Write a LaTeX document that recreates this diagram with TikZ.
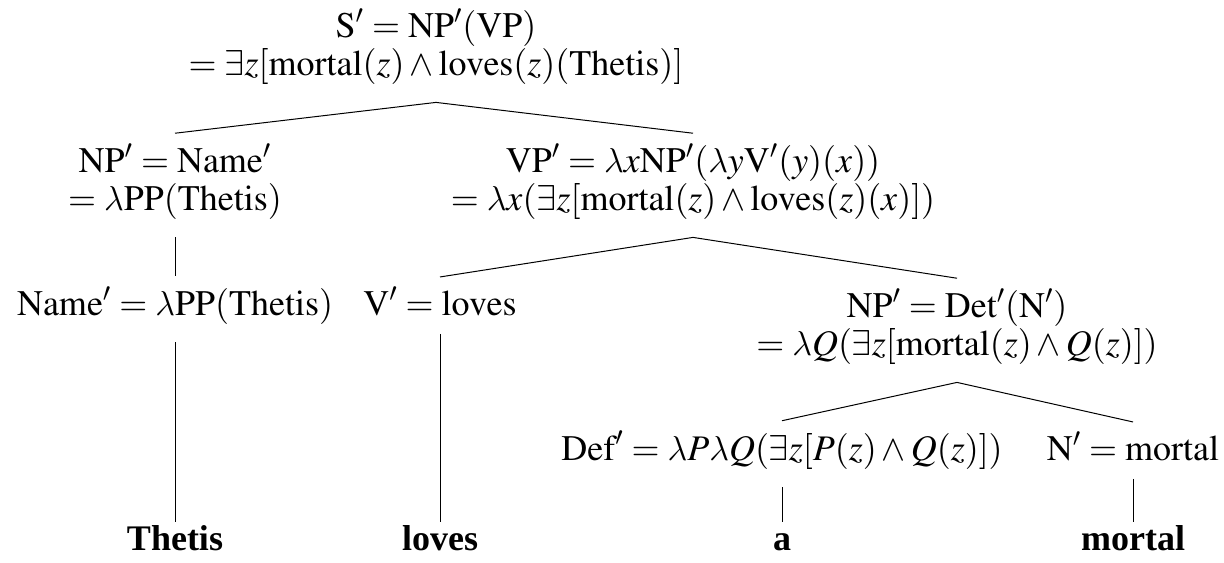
\documentclass[tikz,border=0pt]{standalone}
\usepackage{mathptmx}
\usepackage{fontspec}
\setmainfont{Liberation Serif}
\usetikzlibrary{positioning}

\DeclareSymbolFont{cmletters}{OML}{cmm}{m}{it}
\DeclareMathSymbol{\lam}{\mathord}{cmletters}{"15}
\newcommand{\tx}[1]{\mathrm{#1}}

\begin{document}
\begin{tikzpicture}[
    x=0.5pt, y=-0.5pt,
    every node/.style={font=\fontsize{18}{19}\selectfont},
    sem/.style={align=center, anchor=base, inner xsep=0pt, inner ysep=5pt},
    word/.style={anchor=base, font=\fontsize{18}{19}\selectfont\bfseries, text height=12pt, inner ysep=2pt},
    branch/.style={line width=0.5pt}
]
\useasboundingbox (0,0) rectangle (1224,562);

% semantic values (base = last line)
\node[sem] (s) at (436,75) {$\tx{S}' = \tx{NP}'(\tx{VP})$\\$= \exists z[\tx{mortal}(z) \wedge \tx{loves}(z)(\tx{Thetis})]$};
\node[sem] (np) at (175,210) {$\tx{NP}' = \tx{Name}'$\\$= \lam\tx{PP}(\tx{Thetis})$};
\node[sem] (vp) at (693,210) {$\tx{VP}' = \lam x\tx{NP}'(\lam y\tx{V}'(y)(x))$\\$= \lam x(\exists z[\tx{mortal}(z) \wedge \tx{loves}(z)(x)])$};
\node[sem] (name) at (175,315) {$\tx{Name}' = \lam\tx{PP}(\tx{Thetis})$};
\node[sem] (v) at (440,315) {$\tx{V}' = \tx{loves}$};
\node[sem] (npd) at (957,355) {$\tx{NP}' = \tx{Det}'(\tx{N}')$\\$= \lam Q(\exists z[\tx{mortal}(z) \wedge Q(z)])$};
\node[sem] (def) at (782,460) {$\tx{Def}' = \lam P\lam Q(\exists z[P(z) \wedge Q(z)])$};
\node[sem] (n) at (1133,460) {$\tx{N}' = \tx{mortal}$};

% words
\node[word] (w1) at (175,550) {Thetis};
\node[word] (w2) at (440,550) {loves};
\node[word] (w3) at (782,550) {a};
\node[word] (w4) at (1133,550) {mortal};

% tree lines
\draw[branch] (np.north) -- ([yshift=-4pt]s.south) -- (vp.north);
\draw[branch] (v.north) -- ([yshift=-4pt]vp.south) -- (npd.north);
\draw[branch] (def.north) -- ([yshift=-4pt]npd.south) -- (n.north);
\draw[branch] ([yshift=-4pt]np.south) -- (name.north);
\draw[branch] ([yshift=-4pt]name.south) -- (w1.north);
\draw[branch] ([yshift=-4pt]v.south) -- (w2.north);
\draw[branch] ([yshift=-4pt]def.south) -- (w3.north);
\draw[branch] ([yshift=-4pt]n.south) -- (w4.north);
\end{tikzpicture}
\end{document}
